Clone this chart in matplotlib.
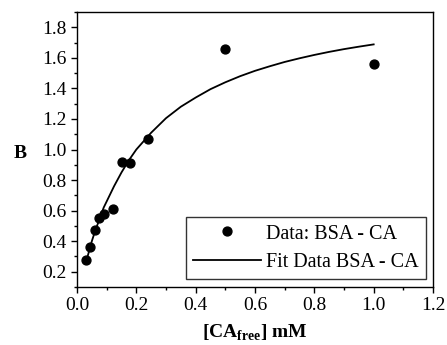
import matplotlib.pyplot as plt
from matplotlib.ticker import MultipleLocator

ca_free = [0.03, 0.045, 0.06, 0.075, 0.09, 0.12, 0.15, 0.18, 0.24, 0.50, 1.00]
b_data = [0.28, 0.36, 0.47, 0.55, 0.58, 0.61, 0.92, 0.91, 1.07, 1.66, 1.56]

# curva de ajuste
fit_x = [0.03, 0.04, 0.05, 0.06, 0.075, 0.09, 0.1, 0.125, 0.15, 0.175, 0.2, 0.25,
         0.3, 0.35, 0.4, 0.45, 0.5, 0.55, 0.6, 0.65, 0.7, 0.75, 0.8, 0.85, 0.9, 0.95, 1.0]
fit_y = [0.26, 0.33, 0.40, 0.46, 0.54, 0.62, 0.66, 0.76, 0.85, 0.93, 1.00, 1.11,
         1.205, 1.28, 1.34, 1.395, 1.44, 1.48, 1.515, 1.545, 1.573, 1.597, 1.619,
         1.639, 1.657, 1.673, 1.688]

plt.rcParams['font.family'] = ['Liberation Serif', 'DejaVu Serif']
plt.rcParams['mathtext.fontset'] = 'custom'
plt.rcParams['mathtext.rm'] = 'Liberation Serif'
plt.rcParams['mathtext.bf'] = 'Liberation Serif:bold'

fig = plt.figure(figsize=(4.47, 3.45), dpi=100)
ax = fig.add_axes([77 / 447, 58 / 345, 356 / 447, 275 / 345])

ax.plot(fit_x, fit_y, color='black', lw=1.3, solid_joinstyle='round',
        label='Fit Data BSA - CA')
ax.plot(ca_free, b_data, 'o', color='black', ms=6.4, label='Data: BSA - CA')

ax.set_xlim(0, 1.2)
ax.set_ylim(0.1, 1.9)
ax.xaxis.set_major_locator(MultipleLocator(0.2))
ax.xaxis.set_minor_locator(MultipleLocator(0.1))
ax.yaxis.set_major_locator(MultipleLocator(0.2))
ax.yaxis.set_minor_locator(MultipleLocator(0.1))
ax.tick_params(which='major', direction='out', length=4, width=1, labelsize=14)
ax.tick_params(which='minor', direction='out', length=2, width=1)
for s in ax.spines.values():
    s.set_linewidth(1)

ax.set_xlabel(r'[CA$_{\mathbf{free}}$] mM', fontsize=14, fontweight='bold', labelpad=6)
ax.set_ylabel('B', fontsize=14, fontweight='bold', rotation=0)
ax.yaxis.set_label_coords(-0.16, 0.455)

h, l = ax.get_legend_handles_labels()
leg = ax.legend([h[1], h[0]], [l[1], l[0]], loc='lower right', fontsize=14.5,
                frameon=True, fancybox=False, edgecolor='black',
                handlelength=3.4, handletextpad=0.25, borderpad=0.35,
                borderaxespad=0, labelspacing=0.45,
                bbox_to_anchor=(0.98, 0.03))
leg.get_frame().set_linewidth(1)

fig.savefig('out.png', dpi=100)
